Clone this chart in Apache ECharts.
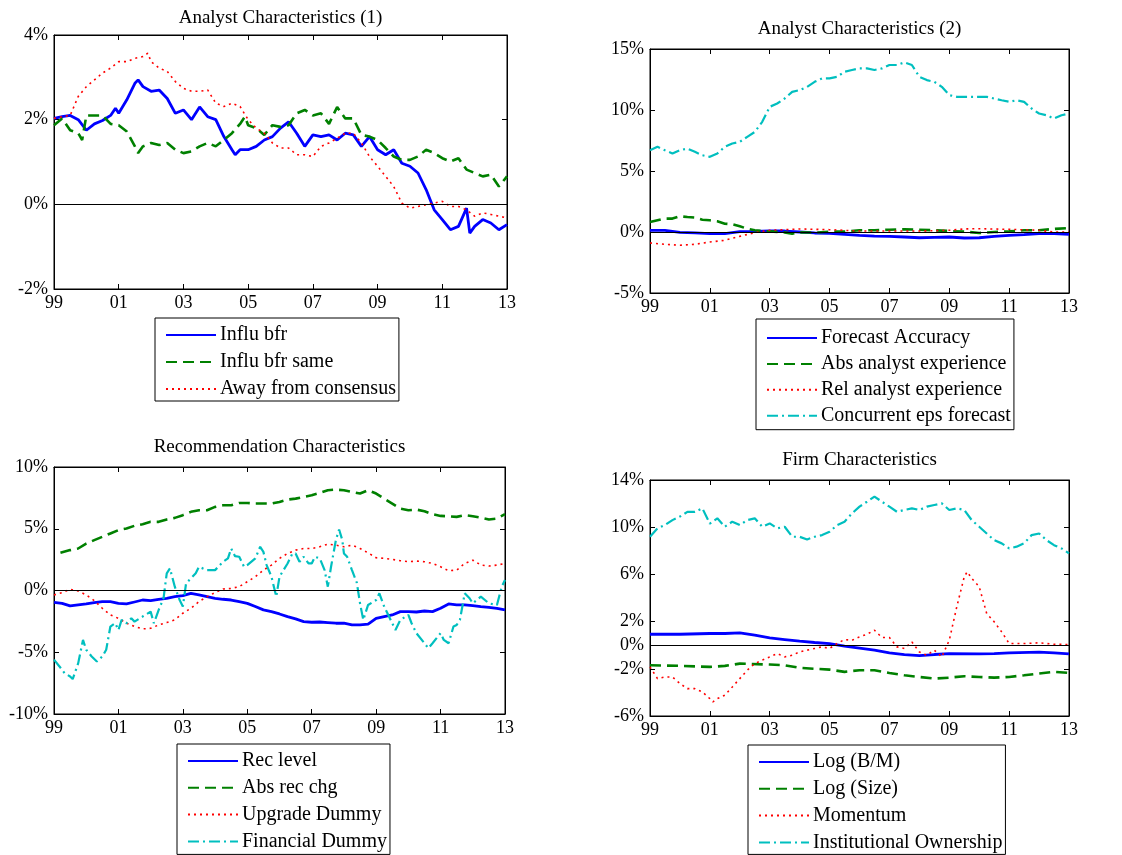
<!DOCTYPE html>
<html>
<head>
<meta charset="utf-8">
<script src="https://cdn.jsdelivr.net/npm/echarts@6/dist/echarts.min.js"></script>
<style>
html,body{margin:0;padding:0;background:#fff;}
#chart{width:1122px;height:855px;}
</style>
</head>
<body>
<div id="chart"></div>
<script>
// ---------------- DATA (year, percent) ----------------
const xTickYears = [1999, 2001, 2003, 2005, 2007, 2009, 2011, 2013];

// Panel 1: Analyst Characteristics (1)
const influBfr = [[1999,2.03],[1999.25,2.07],[1999.5,2.1],[1999.75,2.0],[2000,1.75],[2000.25,1.9],[2000.5,1.98],[2000.75,2.1],[2000.9,2.27],[2001,2.15],[2001.25,2.47],[2001.5,2.86],[2001.6,2.94],[2001.75,2.78],[2002,2.67],[2002.25,2.7],[2002.5,2.5],[2002.75,2.15],[2003,2.23],[2003.25,2.0],[2003.5,2.3],[2003.75,2.07],[2004,2.0],[2004.25,1.6],[2004.5,1.29],[2004.6,1.17],[2004.75,1.29],[2005,1.29],[2005.25,1.37],[2005.5,1.52],[2005.75,1.6],[2006,1.8],[2006.25,1.95],[2006.5,1.68],[2006.75,1.37],[2007,1.64],[2007.25,1.6],[2007.5,1.64],[2007.75,1.52],[2008,1.68],[2008.25,1.64],[2008.5,1.37],[2008.75,1.6],[2009,1.29],[2009.25,1.17],[2009.5,1.29],[2009.75,0.97],[2010,0.9],[2010.25,0.74],[2010.5,0.35],[2010.75,-0.13],[2011,-0.36],[2011.25,-0.6],[2011.5,-0.52],[2011.75,-0.09],[2011.85,-0.68],[2012,-0.52],[2012.25,-0.36],[2012.5,-0.44],[2012.75,-0.6],[2013,-0.48]];
const influBfrSame = [[1999,1.87],[1999.25,2.03],[1999.5,1.75],[1999.75,1.68],[1999.87,1.52],[2000,2.1],[2000.25,2.1],[2000.5,2.1],[2000.75,1.9],[2001,1.87],[2001.25,1.72],[2001.5,1.37],[2001.6,1.21],[2001.75,1.37],[2002,1.45],[2002.25,1.4],[2002.5,1.45],[2002.75,1.29],[2003,1.21],[2003.25,1.25],[2003.5,1.37],[2003.75,1.45],[2004,1.37],[2004.25,1.52],[2004.5,1.68],[2004.75,1.9],[2004.9,2.07],[2005,1.87],[2005.25,1.8],[2005.5,1.64],[2005.75,1.87],[2006,1.83],[2006.25,1.87],[2006.5,2.15],[2006.75,2.23],[2007,2.1],[2007.25,2.15],[2007.5,1.9],[2007.75,2.3],[2008,2.03],[2008.25,2.03],[2008.5,1.64],[2008.75,1.6],[2009,1.52],[2009.25,1.33],[2009.5,1.13],[2009.75,1.05],[2010,1.05],[2010.25,1.13],[2010.5,1.29],[2010.75,1.21],[2011,1.09],[2011.25,1.01],[2011.5,1.09],[2011.75,0.82],[2012,0.74],[2012.25,0.66],[2012.5,0.7],[2012.75,0.42],[2013,0.66]];
const awayConsensus = [[1999,2.03],[1999.25,2.07],[1999.5,2.1],[1999.75,2.55],[2000,2.78],[2000.25,2.94],[2000.5,3.1],[2000.75,3.22],[2001,3.37],[2001.25,3.37],[2001.5,3.45],[2001.75,3.49],[2001.9,3.57],[2002,3.37],[2002.25,3.22],[2002.5,3.14],[2002.75,2.9],[2003,2.74],[2003.25,2.67],[2003.5,2.67],[2003.75,2.7],[2004,2.39],[2004.25,2.31],[2004.5,2.39],[2004.75,2.31],[2005,2.0],[2005.25,1.8],[2005.5,1.68],[2005.75,1.45],[2006,1.33],[2006.25,1.33],[2006.5,1.17],[2006.75,1.17],[2007,1.13],[2007.25,1.37],[2007.5,1.45],[2007.75,1.56],[2008,1.68],[2008.25,1.68],[2008.5,1.45],[2008.75,1.13],[2009,0.9],[2009.25,0.66],[2009.5,0.42],[2009.75,0.03],[2010,-0.09],[2010.25,-0.05],[2010.5,-0.01],[2010.75,0.03],[2011,0.07],[2011.25,-0.05],[2011.5,-0.05],[2011.75,-0.13],[2012,-0.28],[2012.25,-0.2],[2012.5,-0.24],[2012.75,-0.28],[2013,-0.32]];

// Panel 2: Analyst Characteristics (2)
const forecastAccuracy = [[1999,0.14],[1999.5,0.14],[2000,-0.03],[2000.5,-0.08],[2001,-0.14],[2001.5,-0.14],[2002,0.03],[2002.5,0.05],[2003,0.08],[2003.5,0.08],[2004,0.0],[2004.5,-0.08],[2005,-0.11],[2005.5,-0.19],[2006,-0.27],[2006.5,-0.33],[2007,-0.36],[2007.5,-0.41],[2008,-0.47],[2008.5,-0.44],[2009,-0.41],[2009.5,-0.49],[2010,-0.47],[2010.5,-0.36],[2011,-0.27],[2011.5,-0.22],[2012,-0.14],[2012.5,-0.14],[2013,-0.19]];
const absAnalystExp = [[1999,0.82],[1999.25,0.96],[1999.5,1.1],[1999.75,1.1],[2000,1.29],[2000.25,1.23],[2000.5,1.18],[2000.75,1.01],[2001,0.96],[2001.25,0.88],[2001.5,0.68],[2001.75,0.63],[2002,0.47],[2002.25,0.27],[2002.5,0.14],[2002.75,0.08],[2003,0.05],[2003.5,-0.03],[2003.75,-0.14],[2004,-0.03],[2004.5,-0.05],[2005,0.03],[2005.5,0.03],[2006,0.14],[2006.5,0.14],[2007,0.19],[2007.5,0.22],[2008,0.19],[2008.5,0.14],[2009,0.08],[2009.5,0.03],[2010,-0.08],[2010.5,0.0],[2011,0.05],[2011.5,0.14],[2012,0.14],[2012.5,0.25],[2013,0.33]];
const relAnalystExp = [[1999,-0.9],[1999.5,-1.01],[2000,-1.09],[2000.5,-1.01],[2001,-0.82],[2001.5,-0.68],[2002,-0.36],[2002.5,-0.05],[2003,0.14],[2003.5,0.19],[2004,0.25],[2005,0.19],[2006,0.08],[2007,0.08],[2008,0.08],[2009,0.14],[2009.5,0.25],[2010,0.27],[2011,0.22],[2012,0.14],[2012.5,0.0],[2013,0.0]];
const concurrentEps = [[1999,6.7],[1999.25,6.98],[1999.5,6.7],[1999.75,6.43],[2000,6.7],[2000.25,6.84],[2000.5,6.57],[2000.75,6.29],[2001,6.16],[2001.25,6.43],[2001.5,6.98],[2001.75,7.25],[2002,7.39],[2002.25,7.8],[2002.5,8.2],[2002.75,9.03],[2003,10.26],[2003.25,10.53],[2003.5,10.94],[2003.75,11.49],[2004,11.63],[2004.25,11.9],[2004.5,12.31],[2004.75,12.59],[2005,12.59],[2005.25,12.72],[2005.5,13.14],[2005.75,13.28],[2006,13.41],[2006.25,13.41],[2006.5,13.28],[2006.75,13.41],[2007,13.69],[2007.25,13.69],[2007.5,13.9],[2007.75,13.69],[2008,12.72],[2008.25,12.45],[2008.5,12.31],[2008.75,11.9],[2009,11.22],[2009.25,11.08],[2009.5,11.08],[2009.75,11.08],[2010,11.08],[2010.25,11.08],[2010.5,10.94],[2010.75,10.8],[2011,10.67],[2011.25,10.8],[2011.5,10.67],[2011.75,10.12],[2012,9.71],[2012.25,9.57],[2012.5,9.3],[2012.75,9.57],[2013,9.71]];

// Panel 3: Recommendation Characteristics
const recLevel = [[1999,-0.96],[1999.25,-1.04],[1999.5,-1.25],[1999.75,-1.17],[2000,-1.09],[2000.25,-0.98],[2000.5,-0.9],[2000.75,-0.9],[2001,-1.04],[2001.25,-1.09],[2001.5,-0.93],[2001.75,-0.77],[2002,-0.82],[2002.25,-0.71],[2002.5,-0.63],[2002.75,-0.5],[2003,-0.42],[2003.25,-0.23],[2003.5,-0.36],[2003.75,-0.5],[2004,-0.63],[2004.25,-0.71],[2004.5,-0.77],[2004.75,-0.9],[2005,-1.04],[2005.25,-1.3],[2005.5,-1.57],[2005.75,-1.71],[2006,-1.9],[2006.25,-2.11],[2006.5,-2.3],[2006.75,-2.52],[2007,-2.57],[2007.25,-2.55],[2007.5,-2.6],[2007.75,-2.65],[2008,-2.65],[2008.25,-2.79],[2008.5,-2.79],[2008.75,-2.73],[2009,-2.25],[2009.25,-2.11],[2009.5,-1.98],[2009.75,-1.71],[2010,-1.71],[2010.25,-1.74],[2010.5,-1.66],[2010.75,-1.71],[2011,-1.44],[2011.25,-1.09],[2011.5,-1.17],[2011.75,-1.17],[2012,-1.23],[2012.25,-1.3],[2012.5,-1.36],[2012.75,-1.44],[2013,-1.57]];
const absRecChg = [[1999.2,3.05],[1999.5,3.27],[1999.75,3.4],[2000,3.8],[2000.25,4.08],[2000.5,4.35],[2000.75,4.62],[2001,4.89],[2001.25,5.02],[2001.5,5.24],[2001.75,5.37],[2002,5.56],[2002.25,5.56],[2002.5,5.75],[2002.75,5.88],[2003,6.1],[2003.25,6.37],[2003.5,6.5],[2003.75,6.5],[2004,6.77],[2004.25,6.9],[2004.5,6.9],[2004.75,7.09],[2005,7.09],[2005.25,7.04],[2005.5,7.04],[2005.75,7.04],[2006,7.17],[2006.25,7.36],[2006.5,7.44],[2006.75,7.58],[2007,7.71],[2007.25,7.9],[2007.5,8.12],[2007.75,8.17],[2008,8.12],[2008.25,7.98],[2008.5,7.85],[2008.75,8.12],[2009,7.85],[2009.25,7.44],[2009.5,7.04],[2009.75,6.63],[2010,6.5],[2010.25,6.55],[2010.5,6.42],[2010.75,6.18],[2011,6.04],[2011.25,6.01],[2011.5,5.96],[2011.75,6.1],[2012,6.01],[2012.25,5.9],[2012.5,5.75],[2012.75,5.83],[2013,6.18]];
const upgradeDummy = [[1999,-0.36],[1999.25,-0.17],[1999.5,0.09],[1999.75,-0.04],[2000,-0.36],[2000.25,-0.82],[2000.5,-1.44],[2000.75,-1.98],[2001,-2.25],[2001.25,-2.65],[2001.5,-2.92],[2001.75,-3.11],[2002,-3.06],[2002.25,-2.79],[2002.5,-2.6],[2002.75,-2.38],[2003,-1.84],[2003.25,-1.44],[2003.5,-0.9],[2003.75,-0.5],[2004,-0.17],[2004.25,0.12],[2004.5,0.17],[2004.75,0.31],[2005,0.71],[2005.25,1.12],[2005.5,1.65],[2005.75,2.06],[2006,2.6],[2006.25,3.0],[2006.5,3.27],[2006.75,3.4],[2007,3.4],[2007.25,3.54],[2007.5,3.76],[2007.75,3.67],[2008,3.54],[2008.25,3.67],[2008.5,3.4],[2008.75,3.05],[2009,2.65],[2009.25,2.6],[2009.5,2.52],[2009.75,2.41],[2010,2.33],[2010.25,2.38],[2010.5,2.33],[2010.75,2.19],[2011,1.92],[2011.25,1.6],[2011.5,1.65],[2011.75,2.19],[2012,2.46],[2012.25,2.06],[2012.5,1.98],[2012.75,2.06],[2013,2.19]];
const financialDummy = [[1999,-5.6],[1999.17,-6.15],[1999.33,-6.7],[1999.5,-6.96],[1999.58,-7.17],[1999.75,-5.9],[1999.9,-4.0],[2000,-4.8],[2000.17,-5.34],[2000.33,-5.75],[2000.5,-5.34],[2000.62,-4.8],[2000.75,-2.92],[2000.9,-2.65],[2001,-3.2],[2001.1,-2.38],[2001.25,-2.65],[2001.4,-2.25],[2001.5,-2.52],[2001.75,-2.11],[2002,-1.71],[2002.1,-2.65],[2002.25,-1.57],[2002.4,-0.63],[2002.5,1.39],[2002.6,1.79],[2002.75,0.31],[2002.9,-0.77],[2003,-1.3],[2003.1,0.58],[2003.25,0.98],[2003.4,1.39],[2003.5,1.92],[2003.75,1.65],[2004,1.65],[2004.25,2.33],[2004.4,2.6],[2004.5,3.4],[2004.62,2.78],[2004.75,2.73],[2004.9,1.92],[2005,2.06],[2005.25,2.6],[2005.4,3.54],[2005.5,3.13],[2005.6,2.06],[2005.75,1.12],[2005.9,-0.5],[2006,1.12],[2006.25,2.19],[2006.4,3.0],[2006.5,3.0],[2006.62,2.33],[2006.75,2.73],[2006.9,2.19],[2007,2.19],[2007.1,2.73],[2007.25,2.6],[2007.4,1.65],[2007.5,0.31],[2007.6,1.92],[2007.75,4.08],[2007.85,4.94],[2007.95,4.08],[2008,3.0],[2008.1,2.73],[2008.25,1.65],[2008.4,0.63],[2008.5,-1.04],[2008.6,-2.38],[2008.75,-1.17],[2009,-0.77],[2009.1,-0.23],[2009.25,-1.3],[2009.4,-2.11],[2009.5,-2.65],[2009.6,-3.2],[2009.75,-2.38],[2010,-1.98],[2010.1,-2.65],[2010.25,-3.46],[2010.5,-4.27],[2010.62,-4.67],[2010.75,-4.27],[2011,-3.46],[2011.1,-4.0],[2011.25,-4.27],[2011.4,-2.92],[2011.5,-2.79],[2011.6,-2.38],[2011.75,-0.23],[2011.9,-0.63],[2012,-1.04],[2012.25,-0.5],[2012.5,-1.04],[2012.75,-1.17],[2012.9,0.31],[2013,0.85]];

// Panel 4: Firm Characteristics
const logBM = [[1999,0.93],[2000,0.93],[2001,0.99],[2001.5,0.99],[2002,1.05],[2002.5,0.85],[2003,0.62],[2003.5,0.48],[2004,0.34],[2004.5,0.23],[2005,0.14],[2005.5,-0.08],[2006,-0.25],[2006.5,-0.42],[2007,-0.65],[2007.5,-0.79],[2008,-0.88],[2008.5,-0.79],[2009,-0.71],[2010,-0.74],[2010.5,-0.71],[2011,-0.65],[2012,-0.59],[2012.5,-0.65],[2013,-0.74]];
const logSize = [[1999,-1.7],[2000,-1.75],[2001,-1.84],[2001.5,-1.75],[2002,-1.56],[2003,-1.64],[2003.5,-1.7],[2004,-1.92],[2005,-2.07],[2005.5,-2.26],[2006,-2.12],[2006.5,-2.12],[2007,-2.35],[2007.5,-2.55],[2008,-2.69],[2008.5,-2.83],[2009,-2.75],[2009.5,-2.63],[2010,-2.69],[2010.5,-2.75],[2011,-2.69],[2011.5,-2.55],[2012,-2.4],[2012.5,-2.26],[2013,-2.35]];
const momentum = [[1999,-1.84],[1999.25,-2.83],[1999.5,-2.69],[1999.75,-2.69],[2000,-3.25],[2000.25,-3.68],[2000.5,-3.68],[2000.75,-3.96],[2001,-4.53],[2001.1,-4.81],[2001.25,-4.53],[2001.5,-4.24],[2001.75,-3.54],[2002,-2.83],[2002.25,-2.12],[2002.5,-1.56],[2002.75,-1.27],[2003,-0.99],[2003.25,-0.71],[2003.5,-0.99],[2003.75,-0.85],[2004,-0.57],[2004.25,-0.42],[2004.5,-0.28],[2004.75,-0.14],[2005,-0.28],[2005.25,0.14],[2005.5,0.48],[2005.75,0.42],[2006,0.71],[2006.25,0.93],[2006.5,1.27],[2006.75,0.65],[2007,0.65],[2007.25,-0.14],[2007.5,-0.28],[2007.75,0.28],[2008,-0.57],[2008.25,-0.85],[2008.5,-0.42],[2008.75,-0.99],[2009,0.42],[2009.25,3.25],[2009.5,5.8],[2009.6,6.22],[2009.75,5.66],[2010,4.95],[2010.25,2.69],[2010.5,1.98],[2010.75,1.13],[2011,0.14],[2011.5,0.14],[2012,0.2],[2012.5,0.08],[2013,0.06]];
const instOwnership = [[1999,9.19],[1999.25,9.9],[1999.5,10.18],[1999.75,10.6],[2000,10.9],[2000.25,11.3],[2000.5,11.3],[2000.75,11.6],[2001,10.3],[2001.25,10.75],[2001.5,10.04],[2001.75,10.47],[2002,10.18],[2002.25,10.6],[2002.5,10.75],[2002.75,10.04],[2003,10.32],[2003.25,9.9],[2003.5,10.04],[2003.75,9.19],[2004,9.19],[2004.25,8.96],[2004.5,9.19],[2004.75,9.33],[2005,9.61],[2005.25,10.18],[2005.5,10.47],[2005.75,11.17],[2006,11.74],[2006.25,12.16],[2006.5,12.59],[2006.75,12.16],[2007,11.74],[2007.25,11.31],[2007.5,11.46],[2007.75,11.6],[2008,11.46],[2008.25,11.74],[2008.5,11.88],[2008.75,12.02],[2009,11.46],[2009.25,11.6],[2009.5,11.46],[2009.75,10.6],[2010,10.04],[2010.25,9.47],[2010.5,8.9],[2010.75,8.63],[2011,8.2],[2011.25,8.35],[2011.5,8.63],[2011.75,9.33],[2012,9.47],[2012.25,8.9],[2012.5,8.48],[2012.75,8.2],[2013,7.78]];

const yTicks1 = [-2, 0, 2, 4];
const yTicks2 = [-5, 0, 5, 10, 15];
const yTicks3 = [-10, -5, 0, 5, 10];
const yTicks4 = [-6, -2, 0, 2, 6, 10, 14];

// ---------------- STYLES / LAYOUT ----------------
const FONT = 'Liberation Serif';
const FS_TICK = 18;
const FS_TITLE = 19;
const FS_LEG = 20;
const STY = {
  solid:   { color: '#0000ff', width: 2.8, type: 'solid' },
  dash:    { color: '#008000', width: 2.6, type: [11, 6] },
  dot:     { color: '#ff0000', width: 1.6, type: [2, 4] },
  dashdot: { color: '#00bfbf', width: 2.2, type: [11, 4, 2, 4] }
};

const panels = [
  { title: 'Analyst Characteristics (1)', grid: {left: 54, top: 35, width: 453, height: 254}, titleTop: 8.5,
    y: {min: -2, max: 4, ticks: yTicks1},
    legend: {left: 155, top: 318, padding: [7, 3, 2, 10], gap: 7},
    series: [['Influ bfr', influBfr, 'solid'], ['Influ bfr same', influBfrSame, 'dash'], ['Away from consensus', awayConsensus, 'dot']] },
  { title: 'Analyst Characteristics (2)', grid: {left: 650, top: 49, width: 419, height: 244}, titleTop: 20,
    y: {min: -5, max: 15, ticks: yTicks2},
    legend: {left: 756, top: 319, padding: [9, 3, 4, 10], gap: 5.9},
    series: [['Forecast Accuracy', forecastAccuracy, 'solid'], ['Abs analyst experience', absAnalystExp, 'dash'], ['Rel analyst experience', relAnalystExp, 'dot'], ['Concurrent eps forecast', concurrentEps, 'dashdot']] },
  { title: 'Recommendation Characteristics', grid: {left: 54, top: 467, width: 451, height: 247}, titleTop: 437.5,
    y: {min: -10, max: 10, ticks: yTicks3},
    legend: {left: 177, top: 744, padding: [7, 3, 3, 10], gap: 6.8},
    series: [['Rec level', recLevel, 'solid'], ['Abs rec chg', absRecChg, 'dash'], ['Upgrade Dummy', upgradeDummy, 'dot'], ['Financial Dummy', financialDummy, 'dashdot']] },
  { title: 'Firm Characteristics', grid: {left: 650, top: 480, width: 419, height: 236}, titleTop: 451,
    y: {min: -6, max: 14, ticks: yTicks4},
    legend: {left: 748, top: 745, padding: [7, 3, 2, 10], gap: 6.8},
    series: [['Log (B/M)', logBM, 'solid'], ['Log (Size)', logSize, 'dash'], ['Momentum', momentum, 'dot'], ['Institutional Ownership', instOwnership, 'dashdot']] }
];

const YEAR0 = 1999;
const xTickOffsets = xTickYears.map(y => y - YEAR0);

const option = { animation: false, backgroundColor: '#fff', title: [], grid: [], xAxis: [], yAxis: [], legend: [], series: [] };

panels.forEach((p, i) => {
  option.grid.push(Object.assign({ show: true, borderColor: '#000', borderWidth: 1, containLabel: false }, p.grid));
  option.title.push({
    text: p.title, left: p.grid.left + p.grid.width / 2, top: p.titleTop, textAlign: 'center', padding: 0,
    textStyle: { fontFamily: FONT, fontSize: FS_TITLE, fontWeight: 'normal', color: '#000' }
  });
  const xBase = {
    type: 'value', gridIndex: i, min: 0, max: 14, interval: 2,
    axisLine: { show: true, onZero: false, lineStyle: { color: '#000', width: 1 } },
    axisTick: { show: true, inside: true, length: 5, lineStyle: { color: '#000' }, customValues: xTickOffsets },
    splitLine: { show: false }
  };
  option.xAxis.push(Object.assign({}, xBase, {
    position: 'bottom',
    axisLabel: { show: true, customValues: xTickOffsets, margin: 5, color: '#000', fontFamily: FONT, fontSize: FS_TICK,
      formatter: v => String((v + YEAR0) % 100).padStart(2, '0') }
  }));
  option.xAxis.push(Object.assign({}, xBase, { position: 'top', axisLabel: { show: false } }));
  const yBase = {
    type: 'value', gridIndex: i, min: p.y.min, max: p.y.max, interval: (i === 3 ? 2 : p.y.ticks[1] - p.y.ticks[0]),
    axisLine: { show: true, onZero: false, lineStyle: { color: '#000', width: 1 } },
    axisTick: { show: true, inside: true, length: 5, lineStyle: { color: '#000' }, customValues: p.y.ticks },
    splitLine: { show: false }
  };
  option.yAxis.push(Object.assign({}, yBase, {
    position: 'left',
    axisLabel: { show: true, customValues: p.y.ticks, margin: 6, color: '#000', fontFamily: FONT, fontSize: FS_TICK, formatter: v => v + '%' }
  }));
  option.yAxis.push(Object.assign({}, yBase, { position: 'right', axisLabel: { show: false } }));

  option.legend.push({
    orient: 'vertical', left: p.legend.left, top: p.legend.top, height: 300, padding: p.legend.padding,
    itemWidth: 50, itemHeight: 14, itemGap: p.legend.gap,
    borderColor: '#000', borderWidth: 1, backgroundColor: '#fff',
    selectedMode: false,
    itemStyle: { color: 'rgba(0,0,0,0)', borderColor: 'rgba(0,0,0,0)', borderWidth: 0, opacity: 0 },
    textStyle: { fontFamily: FONT, fontSize: FS_LEG, color: '#000', padding: [0, 0, 0, -1] },
    data: p.series.map(s => s[0])
  });

  p.series.forEach((s, k) => {
    const st = STY[s[2]];
    const ser = {
      name: s[0], type: 'line', xAxisIndex: 2 * i, yAxisIndex: 2 * i,
      data: s[1].map(d => [d[0] - YEAR0, d[1]]),
      showSymbol: false, symbol: 'none', smooth: false,
      lineStyle: { color: st.color, width: st.width, type: st.type },
      itemStyle: { color: st.color },
      z: 3
    };
    if (k === 0) {
      ser.markLine = {
        silent: true, symbol: ['none', 'none'], label: { show: false },
        lineStyle: { color: '#000', width: 1, type: 'solid' },
        data: [{ yAxis: 0 }]
      };
    }
    option.series.push(ser);
  });
});

const chart = echarts.init(document.getElementById('chart'), null, { renderer: 'canvas' });
chart.setOption(option);
</script>
</body>
</html>
